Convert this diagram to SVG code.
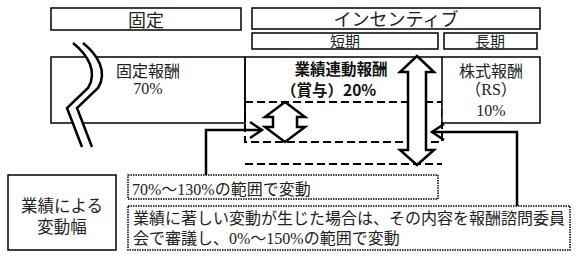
<svg xmlns="http://www.w3.org/2000/svg" width="587" height="259" viewBox="0 0 587 259">
<style>
.box{fill:#fff;stroke:#000;stroke-width:1.5}
.dot{fill:#fff;stroke:#000;stroke-width:1.5;stroke-dasharray:1.5 1}
.dash{fill:none;stroke:#000;stroke-width:2;stroke-dasharray:8 4}
.t{font-family:"Liberation Serif","Noto Sans CJK JP",serif;fill:#222}
.g{font-family:"Noto Sans CJK JP","Liberation Sans",sans-serif;fill:#111;font-weight:bold}
.c{text-anchor:middle}
.arr{fill:#fff;stroke:#000;stroke-width:2.5;stroke-linejoin:miter}
.con{fill:none;stroke:#000;stroke-width:2.5}
.wave{fill:none;stroke:#000;stroke-width:2.5}
</style>
<rect width="587" height="259" fill="#fff"/>
<g id="header-fixed">
<rect class="box" x="51" y="8" width="190" height="22"/>
<text class="t c" x="146" y="27" font-size="18">固定</text>
</g>
<g id="header-incentive">
<rect class="box" x="252" y="8" width="288" height="21"/>
<text class="t c" x="396" y="26" font-size="18">インセンティブ</text>
</g>
<g id="header-short">
<rect class="box" x="252" y="33" width="186" height="16"/>
<text class="t c" x="345" y="47" font-size="15">短期</text>
</g>
<g id="header-long">
<rect class="box" x="444" y="33" width="93" height="16"/>
<text class="t c" x="490" y="47" font-size="15">長期</text>
</g>
<g id="fixed-pay">
<rect class="box" x="51" y="57" width="194" height="66"/>
<text class="t c" x="148" y="77" font-size="16">固定報酬</text>
<text class="t c" x="148" y="94" font-size="16">70%</text>
</g>
<g id="bonus">
<path d="M245 123 V57 H442" fill="none" stroke="#000" stroke-width="1.5"/>
<rect class="dash" x="245" y="102" width="197" height="40"/>
<line class="dash" x1="245" y1="164" x2="442" y2="164"/>
<text class="g c" x="341" y="75" font-size="15.5">業績連動報酬</text>
<text class="g" x="281" y="96" font-size="15.5">（賞与）20%</text>
</g>
<g id="stock-pay">
<rect class="box" x="442" y="57" width="98" height="66"/>
<text class="t c" x="491" y="77" font-size="16">株式報酬</text>
<text class="t c" x="491" y="95" font-size="16">（RS）</text>
<text class="t c" x="491" y="116" font-size="16">10%</text>
</g>
<g id="wave">
<path d="M73 43 C88 55 98 72 88 88 L67 108 L82 147 L92 147 L77 108 L98 88 C108 72 98 55 83 43 Z" fill="#fff" stroke="none"/>
<path class="wave" d="M73 43 C88 55 98 72 88 88 L67 108 L82 147"/>
<path class="wave" d="M83 43 C98 55 108 72 98 88 L77 108 L92 147"/>
</g>
<g id="small-arrow">
<polygon class="arr" points="285,102 305,117 297,117 297,127 305,127 285,142 265,127 273,127 273,117 265,117"/>
</g>
<g id="big-arrow">
<polygon class="arr" points="417,56 434,72 426,72 426,150 434,150 417,165 400,150 408,150 408,72 400,72"/>
</g>
<g id="variation-label">
<rect class="box" x="8" y="175" width="108" height="75"/>
<text class="t c" x="62" y="212" font-size="16.5">業績による</text>
<text class="t c" x="62" y="233" font-size="16.5">変動幅</text>
</g>
<g id="range-normal">
<rect class="dot" x="128" y="175" width="310" height="24"/>
<text class="t" x="132" y="195" font-size="16">70%～130%の範囲で変動</text>
</g>
<g id="range-special">
<rect class="dot" x="128" y="206" width="442" height="44"/>
<text class="t" x="133" y="224" font-size="16">業績に著しい変動が生じた場合は、その内容を報酬諮問委員</text>
<text class="t" x="133" y="244" font-size="16">会で審議し、0%～150%の範囲で変動</text>
</g>
<g id="connectors">
<path class="con" d="M206 175 V130 H261"/>
<path class="con" d="M250 122 L262 130 L250 138"/>
<path class="con" d="M517 206 V132 H433"/>
<path class="con" d="M444 124 L432 132 L444 140"/>
</g>
</svg>
